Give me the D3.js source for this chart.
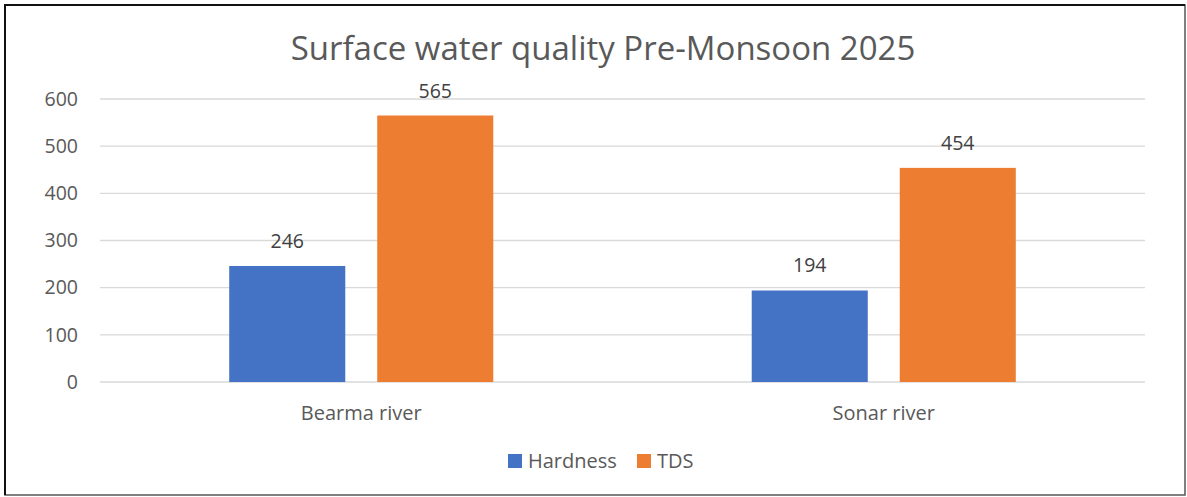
<!DOCTYPE html>
<html>
<head>
<meta charset="utf-8">
<script src="https://cdn.jsdelivr.net/npm/d3@7"></script>
<style>
  html, body { margin: 0; padding: 0; background: #fff; }
  svg { display: block; }
</style>
</head>
<body>
<svg id="chart" width="1187" height="497"></svg>
<script>
// Rivers sampled and the measured parameters
const categories = ["Bearma river", "Sonar river"];
const seriesNames = ["Hardness", "TDS"];
const hardness = [246, 194];
const tds = [565, 454];
const yTicks = [0, 100, 200, 300, 400, 500, 600];
const colors = ["#4472C4", "#ED7D31"];

const font = "'Open Sans', 'Noto Sans', sans-serif";
const svg = d3.select("#chart");
const W = 1187, H = 497;

// chart frame: darker on the top and left edges
svg.append("rect").attr("x", 5).attr("y", 5).attr("width", W - 7).attr("height", H - 7)
  .attr("fill", "#fff").attr("stroke", "#555").attr("stroke-width", 1.5);
svg.append("path").attr("d", `M5,${H - 2} V5 H${W - 2}`)
  .attr("fill", "none").attr("stroke", "#111").attr("stroke-width", 2);

const plot = { left: 100, right: 1145, top: 99, bottom: 382 };

const x = d3.scaleBand().domain(categories).range([plot.left, plot.right]);
const xs = d3.scaleBand().domain(seriesNames).range([0, x.bandwidth()]).paddingInner(0.216).paddingOuter(0.873);
const y = d3.scaleLinear().domain([0, 600]).range([plot.bottom, plot.top]);

// title
svg.append("text").attr("x", 603).attr("y", 60).attr("text-anchor", "middle")
  .attr("font-family", font).attr("font-size", 33).attr("fill", "#595959")
  .text("Surface water quality Pre-Monsoon 2025");

// gridlines
svg.append("g").selectAll("line").data(yTicks).join("line")
  .attr("x1", plot.left).attr("x2", plot.right)
  .attr("y1", d => y(d)).attr("y2", d => y(d))
  .attr("stroke", "#d9d9d9").attr("stroke-width", 1.3);

// y axis labels
const yAxis = d3.axisLeft(y).tickValues(yTicks).tickSize(0).tickPadding(0);
const gy = svg.append("g").attr("transform", `translate(${plot.left - 22},0)`).call(yAxis);
gy.select(".domain").remove();
gy.selectAll("text").attr("font-family", font).attr("font-size", 19.5).attr("fill", "#595959");

// bars
const rows = categories.map((c, i) => ({ cat: c, vals: [hardness[i], tds[i]] }));
const groups = svg.append("g").selectAll("g").data(rows).join("g")
  .attr("transform", d => `translate(${x(d.cat)},0)`);
groups.selectAll("rect").data(d => d.vals.map((v, j) => ({ s: seriesNames[j], v, j }))).join("rect")
  .attr("x", d => xs(d.s)).attr("width", xs.bandwidth())
  .attr("y", d => y(d.v)).attr("height", d => y(0) - y(d.v))
  .attr("fill", d => colors[d.j]);
groups.selectAll("text.val").data(d => d.vals.map((v, j) => ({ s: seriesNames[j], v, j }))).join("text")
  .attr("class", "val")
  .attr("x", d => xs(d.s) + xs.bandwidth() / 2).attr("y", d => y(d.v) - 18)
  .attr("text-anchor", "middle").attr("font-family", font).attr("font-size", 19.5).attr("fill", "#404040")
  .text(d => d.v);

// category labels
const xAxis = d3.axisBottom(x).tickSize(0).tickPadding(0);
const gx = svg.append("g").attr("transform", `translate(0,${plot.bottom + 38})`).call(xAxis);
gx.select(".domain").remove();
gx.selectAll("text").attr("font-family", font).attr("font-size", 20).attr("fill", "#595959").attr("dy", 0);

// legend
const legendX = [508, 637];
const lg = svg.append("g").selectAll("g").data(seriesNames).join("g")
  .attr("transform", (d, i) => `translate(${legendX[i]},454)`);
lg.append("rect").attr("width", 14).attr("height", 14).attr("fill", (d, i) => colors[i]);
lg.append("text").attr("x", 20).attr("y", 14).attr("font-family", font).attr("font-size", 20)
  .attr("fill", "#595959").text(d => d);
</script>
</body>
</html>
